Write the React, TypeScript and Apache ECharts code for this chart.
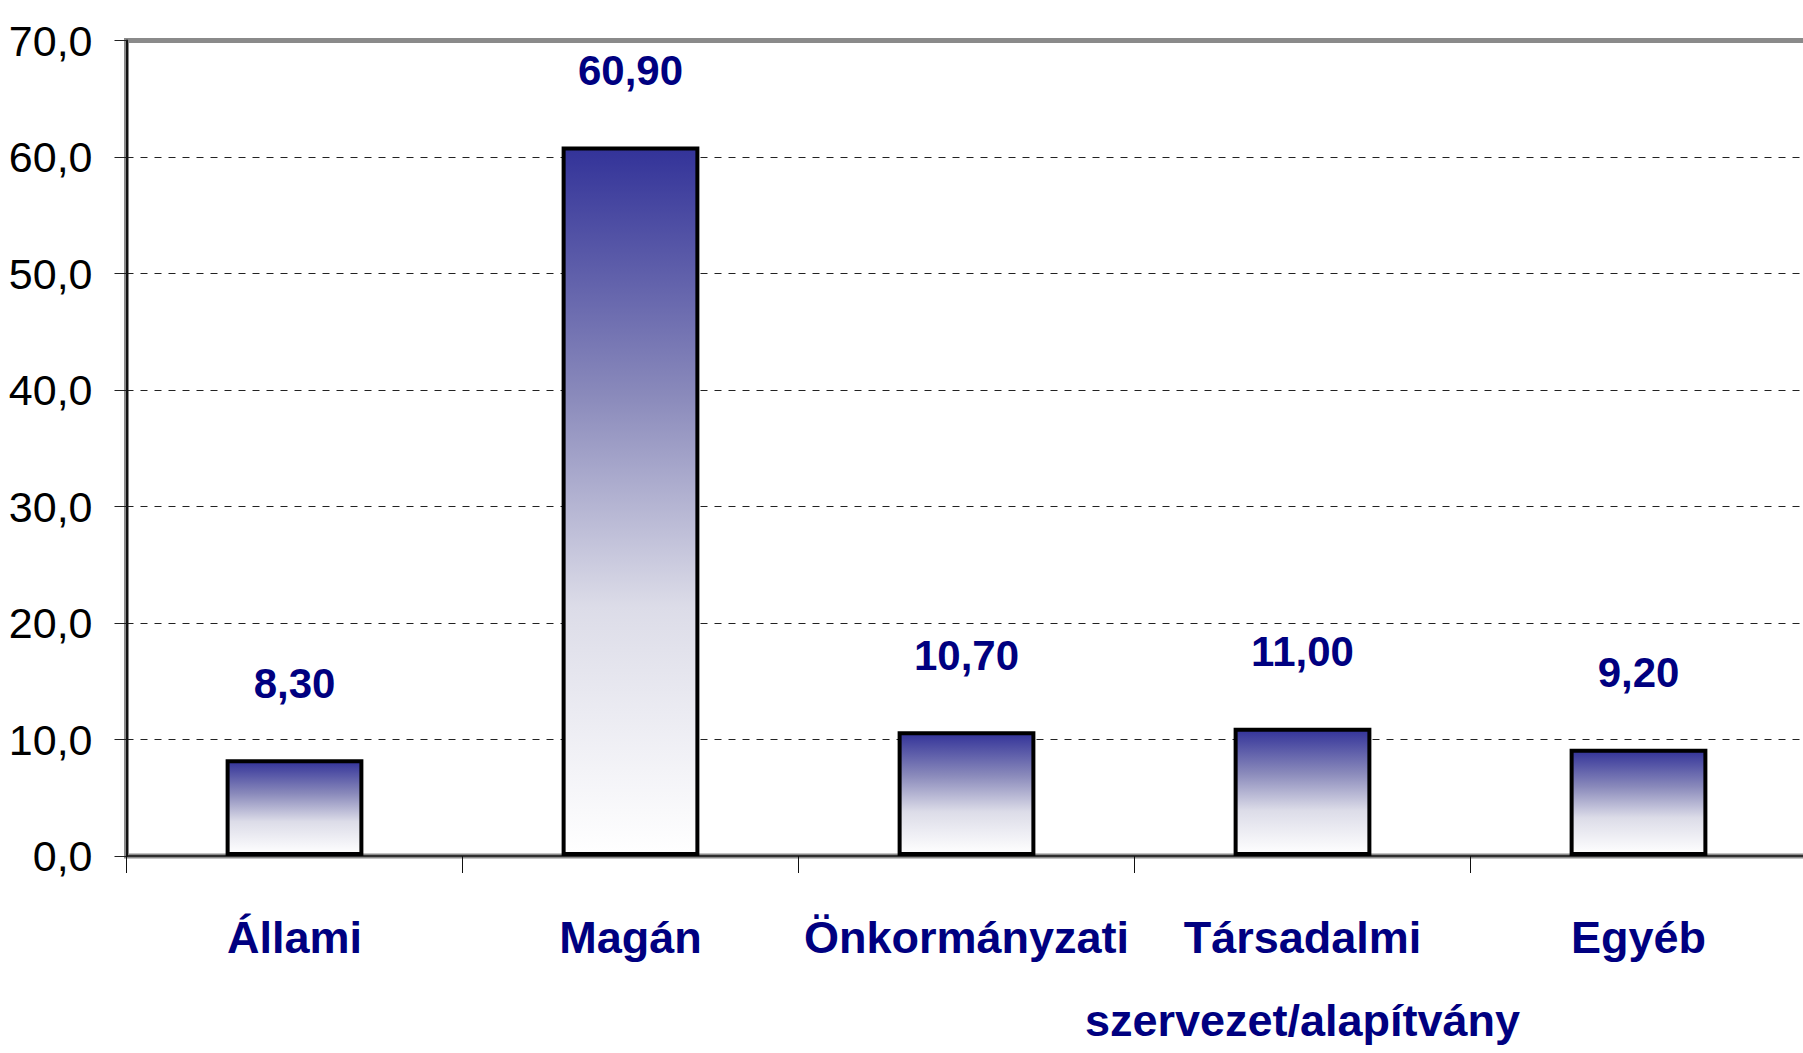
import React, { useEffect, useRef } from "react";
import * as echarts from "echarts";

const categories = ["Állami", "Magán", "Önkormányzati", "Társadalmi\nszervezet/alapítvány", "Egyéb"];
const values = [8.3, 60.9, 10.7, 11.0, 9.2];
const yMin = 0;
const yMax = 70;
const yStep = 10;

const FONT = "'Liberation Sans', Arial, sans-serif";
const NAVY = "#000080";

export default function App() {
  const ref = useRef<HTMLDivElement>(null);
  useEffect(() => {
    if (!ref.current) return;
    const chart = echarts.init(ref.current, undefined, { renderer: "svg" });
    chart.setOption({
      animation: false,
      backgroundColor: "#ffffff",
      grid: {
        left: 126.5,
        top: 40.5,
        width: 1680,
        height: 815.5,
        outerBoundsMode: "none",
        containLabel: false,
        show: true,
        borderColor: "#8a8a8a",
        borderWidth: 5,
        backgroundColor: "transparent",
      },
      xAxis: {
        type: "category",
        data: categories,
        boundaryGap: true,
        axisLine: { show: true, lineStyle: { color: "#111111", width: 1.5 } },
        axisTick: { show: true, alignWithLabel: false, length: 17, lineStyle: { color: "#111111", width: 1 } },
        axisLabel: {
          interval: 0,
          margin: 40,
          fontFamily: FONT,
          fontWeight: "bold",
          fontSize: 45,
          color: NAVY,
          lineHeight: 83,
        },
        splitLine: { show: false },
      },
      yAxis: {
        type: "value",
        min: yMin,
        max: yMax,
        interval: yStep,
        axisLine: { show: true, lineStyle: { color: "#111111", width: 2 } },
        axisTick: { show: true, length: 12, lineStyle: { color: "#222222", width: 1 } },
        axisLabel: {
          margin: 34,
          fontFamily: FONT,
          fontSize: 43,
          color: "#000000",
          formatter: (v: number) => v.toFixed(1).replace(".", ","),
        },
        splitLine: {
          show: true,
          showMinLine: false,
          showMaxLine: false,
          lineStyle: { color: "#222222", width: 1, type: [7, 7] },
        },
      },
      series: [
        {
          type: "bar",
          data: values,
          barWidth: "41%",
          itemStyle: {
            borderColor: "#000000",
            borderWidth: 4,
            color: new echarts.graphic.LinearGradient(0, 0, 0, 1, [
              { offset: 0, color: "#333399" },
              { offset: 0.35, color: "#8a8abb" },
              { offset: 0.65, color: "#dcdce8" },
              { offset: 1, color: "#ffffff" },
            ]),
          },
          label: {
            show: true,
            position: "top",
            distance: 55,
            fontFamily: FONT,
            fontWeight: "bold",
            fontSize: 42,
            color: NAVY,
            formatter: (p: any) => Number(p.value).toFixed(2).replace(".", ","),
          },
        },
      ],
    });
    return () => chart.dispose();
  }, []);
  return (
    <div
      ref={ref}
      style={{ position: "fixed", left: 0, top: 0, width: 1803, height: 1053 }}
    />
  );
}
